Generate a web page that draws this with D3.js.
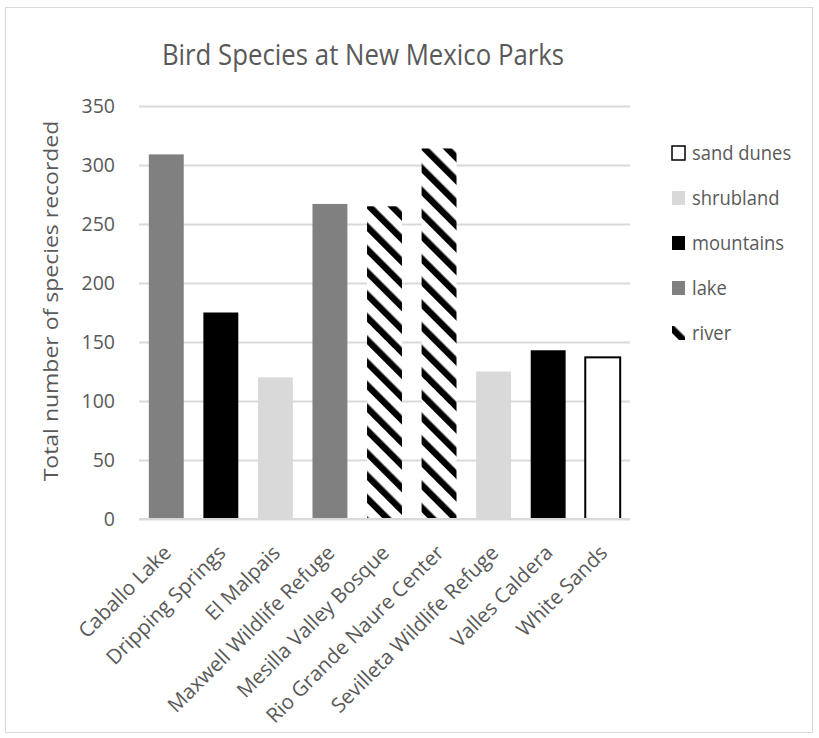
<!DOCTYPE html>
<html><head><meta charset="utf-8">
<script src="https://cdn.jsdelivr.net/npm/d3@7"></script>
<style>body{margin:0;background:#fff}svg{display:block}text{font-family:"Open Sans",sans-serif}</style>
</head><body><svg id="c" width="819" height="738"></svg>
<script>
const categories = ["Caballo Lake","Dripping Springs","El Malpais","Maxwell Wildlife Refuge","Mesilla Valley Bosque","Rio Grande Naure Center","Sevilleta Wildlife Refuge","Valles Caldera","White Sands"];
const values = [309, 175, 120, 267, 265, 314, 125, 143, 137];
const habitats = ["lake","mountains","shrubland","lake","river","river","shrubland","mountains","sand dunes"];
const legendItems = ["sand dunes","shrubland","mountains","lake","river"];
const yTicks = [0,50,100,150,200,250,300,350];

const svg = d3.select("#c");
const txt = "#595959", grid = "#d9d9d9";
const m = {l:139, r:630, t:106, b:519};

const defs = svg.append("defs");
const P = 16;
const pat = defs.append("pattern").attr("id","hatch").attr("patternUnits","userSpaceOnUse")
  .attr("width",P).attr("height",P).attr("patternTransform","rotate(-45)");
pat.append("rect").attr("width",P).attr("height",P).attr("fill","#fff");
pat.append("rect").attr("width",6.5).attr("height",P).attr("fill","#000");

const fills = {"lake":"#808080","mountains":"#000000","shrubland":"#d9d9d9","river":"url(#hatch)","sand dunes":"#ffffff"};

svg.append("rect").attr("x",5.5).attr("y",7.5).attr("width",807).attr("height",725)
  .attr("fill","#fff").attr("stroke",grid).attr("stroke-width",1);

svg.append("text").attr("transform","translate(363,65) scale(0.86,1)").attr("text-anchor","middle")
  .attr("font-size",30).attr("fill",txt).text("Bird Species at New Mexico Parks");

const x = d3.scaleBand().domain(categories).range([m.l,m.r]).paddingInner(0.36).paddingOuter(0.18);
const y = d3.scaleLinear().domain([0,350]).range([m.b,m.t]);

const ya = svg.append("g").attr("transform",`translate(${m.l},0)`)
  .call(d3.axisLeft(y).tickValues(yTicks).tickSize(-(m.r-m.l)).tickPadding(24));
ya.select(".domain").remove();
ya.selectAll(".tick line").attr("stroke",grid).attr("stroke-width",2);
ya.selectAll(".tick text").attr("fill",txt).attr("font-size",19.5).attr("x",-24);

svg.append("g").selectAll("rect").data(categories).join("rect")
  .attr("x",d=>x(d)).attr("width",x.bandwidth())
  .attr("y",(d,i)=>y(values[i])).attr("height",(d,i)=>y(0)-y(values[i]))
  .attr("fill",(d,i)=>fills[habitats[i]])
  .attr("stroke",(d,i)=>habitats[i]==="sand dunes"?"#000":"none")
  .attr("stroke-width",2);

svg.append("line").attr("x1",m.l).attr("x2",m.r).attr("y1",m.b).attr("y2",m.b)
  .attr("stroke",grid).attr("stroke-width",2);

const xa = svg.append("g").attr("transform",`translate(0,${m.b})`)
  .call(d3.axisBottom(x).tickSize(0));
xa.select(".domain").remove();
xa.selectAll(".tick text").attr("fill",txt).attr("font-size",20.5)
  .attr("text-anchor","end").attr("dy",0).attr("y",0)
  .attr("transform","translate(6,35) rotate(-45)");

svg.append("text").attr("transform","translate(58,301) rotate(-90) scale(1,0.85)")
  .attr("text-anchor","middle").attr("font-size",23).attr("fill",txt)
  .text("Total number of species recorded");

const lg = svg.append("g").selectAll("g").data(legendItems).join("g")
  .attr("transform",(d,i)=>`translate(672,${153+i*45})`);
lg.append("rect").attr("x",0).attr("y",-7).attr("width",13).attr("height",14)
  .attr("fill",d=>fills[d]).attr("stroke",d=>d==="sand dunes"?"#000":"none").attr("stroke-width",1.5);
lg.append("text").attr("transform","translate(20,0) scale(0.92,1)").attr("dy","0.35em").attr("font-size",20)
  .attr("fill",txt).text(d=>d);
</script></body></html>
